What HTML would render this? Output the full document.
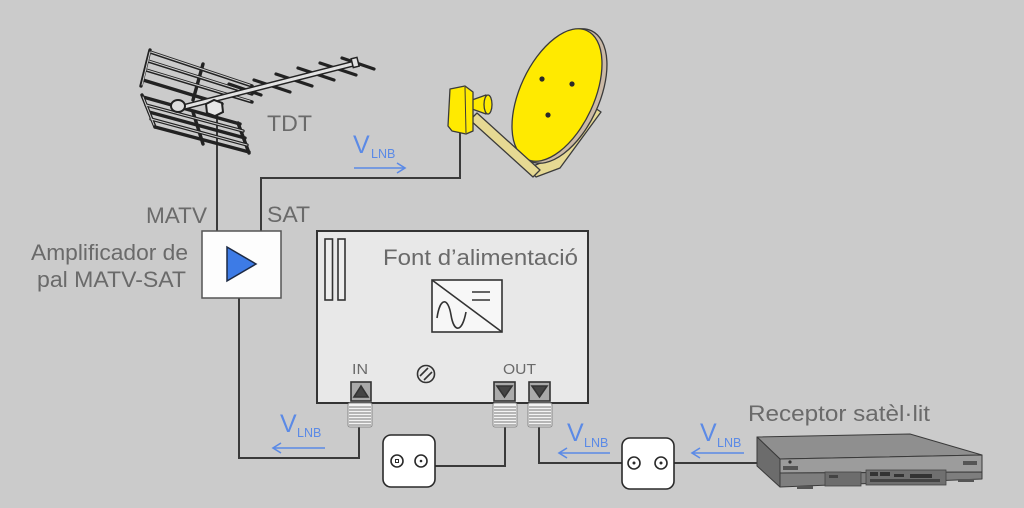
<!DOCTYPE html>
<html><head><meta charset="utf-8"><style>
html,body{margin:0;padding:0;background:#cbcbcb;}
svg{display:block;}
text{font-family:"Liberation Sans",Arial,sans-serif;}
</style></head><body>
<svg width="1024" height="508" viewBox="0 0 1024 508" xmlns="http://www.w3.org/2000/svg">
<rect width="1024" height="508" fill="#cbcbcb"/>

<!-- ===== connecting lines ===== -->
<g fill="none" stroke="#3a3a3a" stroke-width="2">
  <polyline points="217,108 217,232"/>
  <polyline points="261,232 261,178 460,178 460,132"/>
  <polyline points="239,298 239,458 359,458 359,427"/>
  <polyline points="505,427 505,466 435,466"/>
  <polyline points="539,427 539,463 622,463"/>
  <polyline points="674,463 762,463"/>
</g>

<!-- ===== antenna ===== -->
<g stroke="#222" stroke-linecap="round" fill="none">
  <!-- upper reflector panel -->
  <g stroke-width="3.4">
    <line x1="150" y1="50" x2="141" y2="86"/>
    <line x1="150" y1="52" x2="252" y2="86"/>
    <line x1="148" y1="61" x2="252" y2="94"/>
    <line x1="146" y1="70" x2="252" y2="102"/>
    <line x1="143" y1="80" x2="222" y2="104"/>
    <line x1="203" y1="64" x2="193" y2="100"/>
  </g>
  <g stroke="#cfcfcf" stroke-width="1">
    <line x1="151" y1="52" x2="250" y2="85"/>
    <line x1="149" y1="61" x2="250" y2="93"/>
    <line x1="147" y1="70" x2="250" y2="101"/>
    <line x1="150" y1="52" x2="142" y2="85"/>
  </g>
  <!-- lower reflector panel -->
  <g stroke-width="3.4">
    <line x1="142" y1="95" x2="155" y2="127"/>
    <line x1="143" y1="97" x2="240" y2="124"/>
    <line x1="146" y1="105" x2="243" y2="131"/>
    <line x1="149" y1="112" x2="245" y2="138"/>
    <line x1="151" y1="119" x2="247" y2="145"/>
    <line x1="155" y1="127" x2="249" y2="152"/>
    <line x1="238" y1="123" x2="249" y2="153"/>
    <line x1="193" y1="112" x2="203" y2="144"/>
  </g>
  <g stroke="#cfcfcf" stroke-width="1">
    <line x1="146" y1="105" x2="243" y2="131"/>
    <line x1="151" y1="119" x2="247" y2="145"/>
    <line x1="143" y1="97" x2="154" y2="125"/>
  </g>
  <!-- directors -->
  <g stroke-width="3.2">
    <line x1="229" y1="84" x2="261" y2="95"/>
    <line x1="254" y1="80" x2="290" y2="92"/>
    <line x1="276" y1="74" x2="312" y2="86"/>
    <line x1="298" y1="68" x2="334" y2="80"/>
    <line x1="320" y1="63" x2="356" y2="75"/>
    <line x1="342" y1="58" x2="374" y2="69"/>
  </g>
  <!-- boom -->
  <line x1="176" y1="109" x2="356" y2="63" stroke-width="6"/>
  <line x1="176" y1="109" x2="356" y2="63" stroke="#e2e2e2" stroke-width="3"/>
  <rect x="352" y="58" width="6" height="9" fill="#e2e2e2" stroke-width="1.5" transform="rotate(-14 355 62)"/>
  <!-- clamps -->
  <ellipse cx="178" cy="106" rx="7" ry="6" fill="#ddd" stroke-width="2"/>
  <path d="M206,104 L214,100 L222,103 L223,112 L215,116 L207,113 Z" fill="#e6e6e6" stroke-width="2"/>
</g>

<!-- ===== amplifier ===== -->
<rect x="202" y="231" width="79" height="67" fill="#fdfdfd" stroke="#555" stroke-width="1.5"/>
<polygon points="227,247 227,281 256,264" fill="#3d7be6" stroke="#1d2a44" stroke-width="1.5"/>

<!-- ===== dish ===== -->
<g stroke="#3a3a3a" stroke-width="1.3" stroke-linejoin="round">
  <polygon points="528,168 536,177 560,168 601,112 592,106 553,158" fill="#e6d993"/>
  <ellipse cx="561" cy="96" rx="38" ry="72" transform="rotate(25 561 96)" fill="#cbb9a6"/>
  <ellipse cx="557" cy="95" rx="37" ry="71" transform="rotate(25 557 95)" fill="#ffea00"/>
  <polygon points="470,120 477,113 540,170 533,177" fill="#e6d993"/>
  <path d="M472,100 L486,95 L486,114 L472,109 Z" fill="#ffea00"/>
  <ellipse cx="488" cy="104.5" rx="4" ry="9.5" fill="#ffea00"/>
  <path d="M450,89 L465,86 L473,92 L473,131 L466,134 L452,131 L448,126 Z" fill="#ffea00"/>
  <line x1="465" y1="87" x2="466" y2="133" stroke-width="1"/>
</g>
<g fill="#2a2a2a">
  <circle cx="542" cy="79" r="2.6"/>
  <circle cx="572" cy="84" r="2.6"/>
  <circle cx="548" cy="115" r="2.6"/>
</g>

<!-- ===== power supply box ===== -->
<rect x="317" y="231" width="271" height="172" fill="#e8e8e8" stroke="#333" stroke-width="2"/>
<rect x="325" y="239" width="7.5" height="61" fill="#eee" stroke="#333" stroke-width="1.6"/>
<rect x="338" y="239" width="7" height="61" fill="#eee" stroke="#333" stroke-width="1.6"/>
<g stroke="#333" fill="none" stroke-width="1.6">
  <rect x="432" y="280" width="70" height="52" fill="#f7f7f7"/>
  <line x1="432" y1="280" x2="502" y2="332"/>
  <line x1="472" y1="292" x2="490" y2="292"/>
  <line x1="472" y1="300" x2="490" y2="300"/>
  <path d="M437,318 C440,297 448,297 451,315 C454,333 462,333 466,312"/>
  <circle cx="426" cy="374" r="8.5"/>
  <line x1="420" y1="376" x2="428" y2="368"/>
  <line x1="424" y1="380" x2="432" y2="372"/>
</g>
<g fill="#6a6a6a" font-size="15">
  <text x="352" y="374" textLength="16" lengthAdjust="spacingAndGlyphs">IN</text>
  <text x="503" y="374" textLength="33" lengthAdjust="spacingAndGlyphs">OUT</text>
</g>
<!-- port squares -->
<g stroke="#333" stroke-width="1.6">
  <rect x="351" y="382" width="20" height="19" fill="#aaa"/>
  <polygon points="354,397 368,397 361,386" fill="#444"/>
  <rect x="494" y="382" width="21" height="19" fill="#aaa"/>
  <polygon points="497,386 512,386 504.5,397" fill="#444"/>
  <rect x="529" y="382" width="21" height="19" fill="#aaa"/>
  <polygon points="532,386 547,386 539.5,397" fill="#444"/>
</g>
<!-- threads -->
<g>
  <g transform="translate(348,403)">
    <rect width="24" height="24" rx="2" fill="#f4f4f4" stroke="#888"/>
    <g stroke="#777" stroke-width="1"><line x1="1" y1="4" x2="23" y2="4"/><line x1="1" y1="7" x2="23" y2="7"/><line x1="1" y1="10" x2="23" y2="10"/><line x1="1" y1="13" x2="23" y2="13"/><line x1="1" y1="16" x2="23" y2="16"/><line x1="1" y1="19" x2="23" y2="19"/><line x1="1" y1="22" x2="23" y2="22"/></g>
  </g>
  <g transform="translate(493,403)">
    <rect width="24" height="24" rx="2" fill="#f4f4f4" stroke="#888"/>
    <g stroke="#777" stroke-width="1"><line x1="1" y1="4" x2="23" y2="4"/><line x1="1" y1="7" x2="23" y2="7"/><line x1="1" y1="10" x2="23" y2="10"/><line x1="1" y1="13" x2="23" y2="13"/><line x1="1" y1="16" x2="23" y2="16"/><line x1="1" y1="19" x2="23" y2="19"/><line x1="1" y1="22" x2="23" y2="22"/></g>
  </g>
  <g transform="translate(528,403)">
    <rect width="24" height="24" rx="2" fill="#f4f4f4" stroke="#888"/>
    <g stroke="#777" stroke-width="1"><line x1="1" y1="4" x2="23" y2="4"/><line x1="1" y1="7" x2="23" y2="7"/><line x1="1" y1="10" x2="23" y2="10"/><line x1="1" y1="13" x2="23" y2="13"/><line x1="1" y1="16" x2="23" y2="16"/><line x1="1" y1="19" x2="23" y2="19"/><line x1="1" y1="22" x2="23" y2="22"/></g>
  </g>
</g>

<!-- ===== labels (drawn on top) ===== -->
<g fill="#6a6a6a" font-size="22">
  <text x="267" y="131" textLength="45" lengthAdjust="spacingAndGlyphs">TDT</text>
  <text x="146" y="223" textLength="61" lengthAdjust="spacingAndGlyphs">MATV</text>
  <text x="267" y="222" textLength="43" lengthAdjust="spacingAndGlyphs">SAT</text>
  <text x="31" y="260" textLength="157" lengthAdjust="spacingAndGlyphs">Amplificador de</text>
  <text x="37" y="287" textLength="149" lengthAdjust="spacingAndGlyphs">pal MATV-SAT</text>
  <text x="383" y="265" textLength="195" lengthAdjust="spacingAndGlyphs">Font  d’alimentació</text>
  <text x="748" y="421" textLength="182" lengthAdjust="spacingAndGlyphs">Receptor satèl·lit</text>
</g>

<!-- ===== VLNB labels & arrows ===== -->
<g fill="#5b8ae6">
  <text x="353" y="153" font-size="25">V</text><text x="371" y="158" font-size="12.5">LNB</text>
  <text x="280" y="432" font-size="25">V</text><text x="297" y="437" font-size="12.5">LNB</text>
  <text x="567" y="441" font-size="25">V</text><text x="584" y="447" font-size="12.5">LNB</text>
  <text x="700" y="441" font-size="25">V</text><text x="717" y="447" font-size="12.5">LNB</text>
</g>
<g stroke="#5b8ae6" stroke-width="1.6" fill="none">
  <line x1="354" y1="168" x2="405" y2="168"/><polyline points="397,163 405,168 397,173"/>
  <line x1="273" y1="448" x2="325" y2="448"/><polyline points="281,443 273,448 281,453"/>
  <line x1="559" y1="453" x2="610" y2="453"/><polyline points="567,448 559,453 567,458"/>
  <line x1="692" y1="453" x2="744" y2="453"/><polyline points="700,448 692,453 700,458"/>
</g>

<!-- ===== wall sockets ===== -->
<g stroke="#2a2a2a" stroke-width="1.6">
  <rect x="383" y="435" width="52" height="52" rx="8" fill="#fff"/>
  <circle cx="397" cy="461" r="6" fill="#fff"/><rect x="395.5" y="459.5" width="3" height="3" fill="#fff" stroke-width="1"/>
  <circle cx="421" cy="461" r="6" fill="#fff"/><circle cx="421" cy="461" r="1.3" fill="#2a2a2a" stroke="none"/>
  <rect x="622" y="438" width="52" height="51" rx="8" fill="#fff"/>
  <circle cx="634" cy="463" r="6" fill="#fff"/><circle cx="634" cy="463" r="1.5" fill="#2a2a2a" stroke="none"/>
  <circle cx="661" cy="463" r="6" fill="#fff"/><circle cx="661" cy="463" r="1.5" fill="#2a2a2a" stroke="none"/>
</g>

<!-- ===== receiver ===== -->
<g stroke="#3a3a3a" stroke-width="1" stroke-linejoin="round">
  <polygon points="757,437 910,434 982,455 780,459" fill="#8f8f8f"/>
  <polygon points="757,437 780,459 780,487 757,466" fill="#6c6c6c"/>
  <polygon points="780,459 982,455 982,472 780,473" fill="#9c9c9c"/>
  <polygon points="780,473 982,472 982,479 780,487" fill="#7e7e7e"/>
</g>
<g>
  <rect x="783" y="466" width="15" height="4" fill="#555"/>
  <rect x="963" y="461" width="14" height="4" fill="#555"/>
  <circle cx="790" cy="462" r="1.6" fill="#333"/>
  <rect x="825" y="472" width="36" height="14" fill="#6d6d6d" stroke="#444" stroke-width="0.8"/>
  <rect x="829" y="475" width="9" height="3" fill="#444"/>
  <rect x="866" y="470" width="80" height="15" fill="#707070" stroke="#444" stroke-width="0.8"/>
  <rect x="870" y="472" width="8" height="4" fill="#333"/>
  <rect x="880" y="472" width="10" height="4" fill="#333"/>
  <rect x="894" y="474" width="10" height="3" fill="#333"/>
  <rect x="910" y="474" width="22" height="4" fill="#333"/>
  <rect x="870" y="479" width="70" height="3" fill="#444"/>
  <rect x="797" y="486" width="16" height="3" fill="#555"/>
  <rect x="958" y="479" width="16" height="3" fill="#555"/>
</g>
</svg>
</body></html>
